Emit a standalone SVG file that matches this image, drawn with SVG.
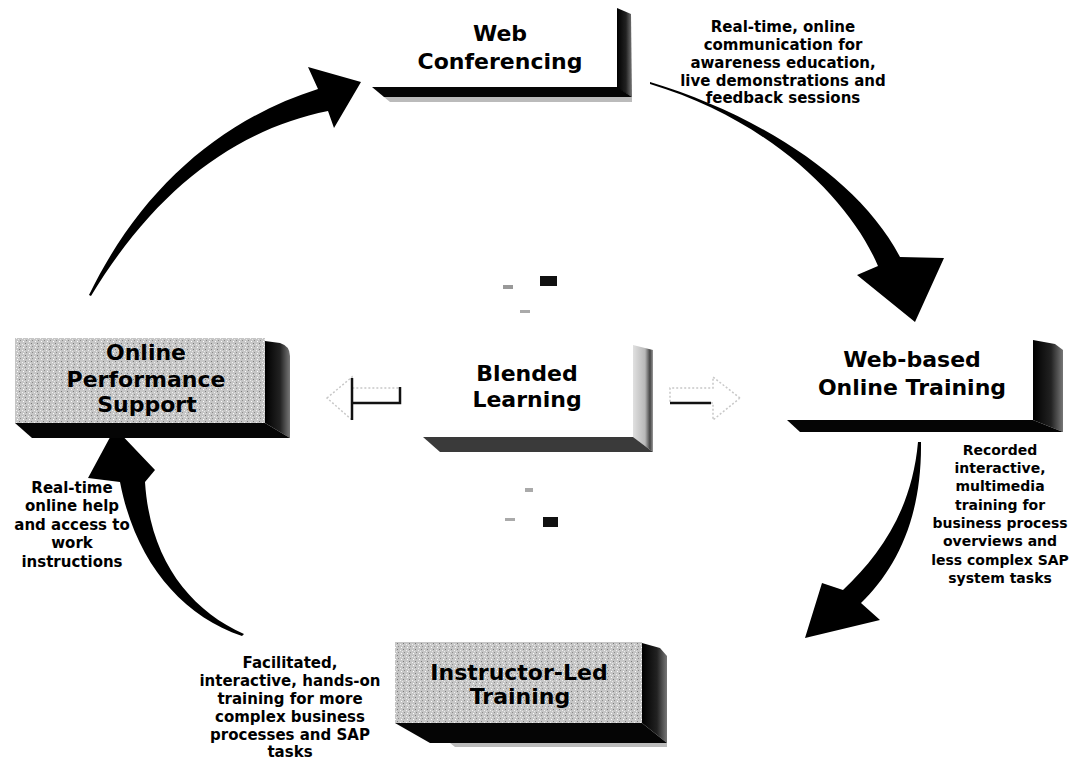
<svg xmlns="http://www.w3.org/2000/svg" width="1078" height="760" viewBox="0 0 1078 760">
<style>
.title{font-family:"DejaVu Sans","Liberation Sans",sans-serif;font-weight:bold;font-size:22px;text-anchor:middle;fill:#000}
.desc{font-family:"DejaVu Sans","Liberation Sans",sans-serif;font-weight:bold;font-size:15px;text-anchor:middle;fill:#000}
.descs{font-family:"DejaVu Sans","Liberation Sans",sans-serif;font-weight:bold;font-size:14px;text-anchor:middle;fill:#000}
.face{fill:#fff}
.gface{fill:url(#speck)}
.band{fill:#050505}
.side{fill:url(#sideg)}
.lside{fill:url(#lsideg)}
.arrow{fill:#000}
.hollow{fill:none;stroke:#c8c8c8;stroke-width:1.5;stroke-dasharray:2 2}
.hshadow{fill:none;stroke:#111;stroke-width:2.5}
</style>
<defs>
<pattern id="speck" width="6" height="6" patternUnits="userSpaceOnUse">
<rect width="6" height="6" fill="#c6c6c6"/>
<rect x="1" y="1" width="1" height="1" fill="#7a7a7a"/>
<rect x="4" y="2" width="1" height="1" fill="#f2f2f2"/>
<rect x="2" y="4" width="1" height="1" fill="#8c8c8c"/>
<rect x="5" y="5" width="1" height="1" fill="#ffffff"/>
<rect x="0" y="3" width="1" height="1" fill="#e8e8e8"/>
</pattern>
<linearGradient id="sideg" x1="0" y1="0" x2="1" y2="0">
<stop offset="0" stop-color="#000"/>
<stop offset="0.6" stop-color="#222"/>
<stop offset="1" stop-color="#777"/>
</linearGradient>
<linearGradient id="lsideg" x1="0" y1="0" x2="1" y2="0">
<stop offset="0" stop-color="#e0e0e0"/>
<stop offset="0.6" stop-color="#b8b8b8"/>
<stop offset="0.85" stop-color="#444"/>
<stop offset="1" stop-color="#999"/>
</linearGradient>
</defs>
<rect width="1078" height="760" fill="#fff"/>

<g id="connectors">
<path class="arrow" d="M 89 295 C 140 190 220 120 318 89 L 308 67 L 361 82 L 334 128 L 328 111 C 235 130 155 190 91 296 Z"/>
<path class="arrow" d="M 650 82 C 760 115 860 180 900 257 L 944 258 L 915 322 L 857 275 L 878 266 C 850 200 770 120 650 84 Z"/>
<path class="arrow" d="M 921 442 C 922 520 895 570 861 603 L 880 620 L 805 638 L 822 583 L 843 590 C 880 555 912 510 918 442 Z"/>
<path class="arrow" d="M 242 636 C 180 615 135 560 120 482 L 88 478 L 115 428 L 155 470 L 145 482 C 150 560 190 610 244 634 Z"/>
<path class="hollow" d="M 327 398 L 352 377 L 352 388 L 400 388 L 400 403 L 352 403 L 352 420 Z"/>
<path class="hshadow" d="M 352 378 L 352 420 M 352 403 L 400 403 L 400 387"/>
<path class="hollow" d="M 740 398 L 713 377 L 713 388 L 670 388 L 670 403 L 713 403 L 713 420 Z"/>
<path class="hshadow" d="M 670 403 L 711 403"/>
<rect x="540" y="276" width="17" height="10" fill="#111"/>
<rect x="543" y="517" width="15" height="10" fill="#111"/>
<rect x="503" y="285" width="10" height="4" fill="#999"/>
<rect x="520" y="310" width="10" height="3" fill="#aaa"/>
<rect x="525" y="488" width="8" height="4" fill="#aaa"/>
<rect x="505" y="518" width="10" height="3" fill="#aaa"/>
</g>

<g id="node-web-conferencing">
<rect class="face" x="372" y="0" width="245" height="88"/>
<polygon class="side" points="617,8 631,14 632,97 617,88"/>
<polygon class="band" points="372,87 617,87 632,97 384,97"/>
<polygon fill="#bbb" points="384,97 632,97 632,102 390,102"/>
<text class="title" x="500" y="41">Web</text>
<text class="title" x="500" y="69">Conferencing</text>
</g>

<g id="node-web-conferencing-note">
<text class="desc" x="783" y="32">Real-time, online</text>
<text class="desc" x="783" y="50">communication for</text>
<text class="desc" x="783" y="68">awareness education,</text>
<text class="desc" x="783" y="86">live demonstrations and</text>
<text class="desc" x="783" y="103">feedback sessions</text>
</g>

<g id="node-blended-learning">
<rect class="face" x="415" y="340" width="218" height="97"/>
<polygon class="lside" points="633,345 653,350 653,452 633,437"/>
<polygon fill="#3a3a3a" points="423,437 633,437 653,452 440,452"/>
<text class="title" x="527" y="381">Blended</text>
<text class="title" x="527" y="407">Learning</text>
</g>

<g id="node-online-performance-support">
<rect class="gface" x="15" y="338" width="250" height="85"/>
<path class="side" d="M 265 341 L 280 343 Q 290 346 290 356 L 290 438 L 265 423 Z"/>
<polygon class="band" points="15,423 265,423 290,438 32,438"/>
<text class="title" x="146" y="360">Online</text>
<text class="title" x="146" y="387">Performance</text>
<text class="title" x="147" y="412">Support</text>
</g>

<g id="node-online-performance-support-note">
<text class="desc" x="72" y="493">Real-time</text>
<text class="desc" x="72" y="511">online help</text>
<text class="desc" x="72" y="530">and access to</text>
<text class="desc" x="72" y="548">work</text>
<text class="desc" x="72" y="567">instructions</text>
</g>

<g id="node-web-based-training">
<rect class="face" x="787" y="335" width="246" height="85"/>
<polygon class="side" points="1033,340 1055,344 1063,350 1063,432 1033,420"/>
<polygon class="band" points="787,420 1033,420 1063,432 800,432"/>
<text class="title" x="912" y="367">Web-based</text>
<text class="title" x="912" y="395">Online Training</text>
</g>

<g id="node-web-based-training-note">
<text class="descs" x="1000" y="455">Recorded</text>
<text class="descs" x="1000" y="473">interactive,</text>
<text class="descs" x="1000" y="491">multimedia</text>
<text class="descs" x="1000" y="510">training for</text>
<text class="descs" x="1000" y="528">business process</text>
<text class="descs" x="1000" y="546">overviews and</text>
<text class="descs" x="1000" y="565">less complex SAP</text>
<text class="descs" x="1000" y="583">system tasks</text>
</g>

<g id="node-instructor-led-training">
<rect class="gface" x="395" y="642" width="247" height="81"/>
<polygon class="side" points="642,643 660,648 667,656 667,743 642,723"/>
<polygon class="band" points="395,723 642,723 667,743 430,743"/>
<polygon fill="#bbb" points="450,743 667,743 667,747 455,747"/>
<text class="title" x="519" y="680">Instructor-Led</text>
<text class="title" x="520" y="704">Training</text>
</g>

<g id="node-instructor-led-training-note">
<text class="desc" x="290" y="668">Facilitated,</text>
<text class="desc" x="290" y="686">interactive, hands-on</text>
<text class="desc" x="290" y="704">training for more</text>
<text class="desc" x="290" y="722">complex business</text>
<text class="desc" x="290" y="740">processes and SAP</text>
<text class="desc" x="290" y="757">tasks</text>
</g>
</svg>
